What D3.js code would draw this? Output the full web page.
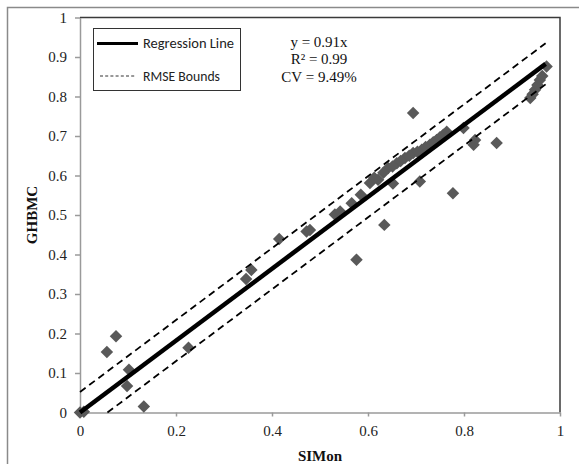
<!DOCTYPE html>
<html lang="en">
<head>
    <style>
        body { margin: 0; background: #fff; }
        svg { display: block; }
        .axis path, .axis line { stroke: #9a9a9a; stroke-width: 1.5; }
        .axis text { font: 15px "Liberation Serif", "Times New Roman", serif; fill: #222; }
    </style>
</head>
<body>
    <svg width="579" height="464"></svg>
    <script src="https://cdn.jsdelivr.net/npm/d3@7"></script>
    <script>
        // Data
        const simon = [0.000, 0.008, 0.056, 0.075, 0.102, 0.098, 0.133, 0.226, 0.346, 0.357,
                       0.415, 0.472, 0.479, 0.531, 0.542, 0.566, 0.576, 0.585, 0.604, 0.621,
                       0.634, 0.652, 0.642, 0.660, 0.677, 0.694, 0.712, 0.729, 0.743, 0.757,
                       0.764, 0.694, 0.708, 0.777, 0.799, 0.823, 0.820, 0.868, 0.938, 0.948,
                       0.958, 0.972, 0.613, 0.632, 0.651, 0.668, 0.686, 0.703, 0.720, 0.736,
                       0.750, 0.943, 0.953, 0.963];
        const ghbmc = [0.000, 0.002, 0.153, 0.193, 0.108, 0.067, 0.015, 0.164, 0.338, 0.361,
                       0.439, 0.458, 0.462, 0.501, 0.509, 0.530, 0.387, 0.551, 0.581, 0.589,
                       0.475, 0.580, 0.619, 0.631, 0.644, 0.657, 0.665, 0.678, 0.690, 0.703,
                       0.711, 0.758, 0.585, 0.555, 0.720, 0.690, 0.678, 0.682, 0.796, 0.817,
                       0.842, 0.876, 0.594, 0.607, 0.623, 0.637, 0.650, 0.660, 0.672, 0.684,
                       0.697, 0.806, 0.829, 0.852];
        const fitSlope = 0.91;
        const rmse = 0.052;
        const fitRange = [0, 0.97];
        const xTicks = [0, 0.2, 0.4, 0.6, 0.8, 1];
        const xTickLabels = ["0", "0.2", "0.4", "0.6", "0.8", "1"];
        const yTicks = [0, 0.1, 0.2, 0.3, 0.4, 0.5, 0.6, 0.7, 0.8, 0.9, 1];
        const yTickLabels = ["0", "0.1", "0.2", "0.3", "0.4", "0.5", "0.6", "0.7", "0.8", "0.9", "1"];
        const statsText = ["y = 0.91x", "R\u00b2 = 0.99", "CV = 9.49%"];
        const legendLabels = ["Regression Line", "RMSE Bounds"];

        const svg = d3.select("svg");
        const plotLeft = 80, plotRight = 560, plotTop = 17.5, plotBottom = 412.5;

        const x = d3.scaleLinear().domain([0, 1]).range([plotLeft, plotRight]);
        const y = d3.scaleLinear().domain([0, 1]).range([plotBottom, plotTop]);

        // outer frame (runs past the picture edge)
        svg.append("rect")
            .attr("x", 7.5).attr("y", 7.5).attr("width", 700).attr("height", 600)
            .attr("fill", "none").attr("stroke", "#8a8a8a").attr("stroke-width", 1.5);

        // top and right border of plot area
        svg.append("path")
            .attr("d", `M${plotLeft},${plotTop}H${plotRight}V${plotBottom}`)
            .attr("fill", "none").attr("stroke", "#3a3a3a").attr("stroke-width", 1.5);

        // axes
        svg.append("g")
            .attr("class", "axis")
            .attr("transform", `translate(${plotLeft},0)`)
            .call(d3.axisLeft(y).tickValues(yTicks).tickSize(5).tickSizeOuter(0).tickPadding(8)
                .tickFormat((d, i) => yTickLabels[i]));

        svg.append("g")
            .attr("class", "axis")
            .attr("transform", `translate(0,${plotBottom})`)
            .call(d3.axisBottom(x).tickValues(xTicks).tickSize(4).tickSizeOuter(0).tickPadding(9)
                .tickFormat((d, i) => xTickLabels[i]));

        // axis titles
        svg.append("text")
            .attr("transform", `translate(36.5,${(plotTop + plotBottom) / 2}) rotate(-90)`)
            .attr("text-anchor", "middle")
            .style("font", "bold 15px 'Liberation Serif', serif")
            .attr("fill", "#111")
            .text("GHBMC");

        svg.append("text")
            .attr("x", (plotLeft + plotRight) / 2).attr("y", 461)
            .attr("text-anchor", "middle")
            .style("font", "bold 15px 'Liberation Serif', serif")
            .attr("fill", "#111")
            .text("SIMon");

        // points
        const points = simon.map((d, i) => ({ sx: d, gy: ghbmc[i] }));
        const diamond = d3.symbol().type(d3.symbolSquare).size(78);
        svg.append("g")
            .selectAll("path")
            .data(points)
            .join("path")
            .attr("d", diamond)
            .attr("transform", d => `translate(${x(d.sx)},${y(d.gy)}) rotate(45)`)
            .attr("fill", "#595959");

        // regression line and RMSE bounds
        const line = d3.line().x(d => x(d[0])).y(d => y(d[1]));
        const fitPts = fitRange.map(v => [v, fitSlope * v]);
        const upperPts = fitRange.map(v => [v, fitSlope * v + rmse]);
        const lowerStart = rmse / fitSlope;
        const lowerPts = [lowerStart, fitRange[1]].map(v => [v, fitSlope * v - rmse]);

        svg.append("path").datum(upperPts).attr("d", line)
            .attr("fill", "none").attr("stroke", "#000").attr("stroke-width", 1.8)
            .attr("stroke-dasharray", "7,4.5");
        svg.append("path").datum(lowerPts).attr("d", line)
            .attr("fill", "none").attr("stroke", "#000").attr("stroke-width", 1.8)
            .attr("stroke-dasharray", "7,4.5");
        svg.append("path").datum(fitPts).attr("d", line)
            .attr("fill", "none").attr("stroke", "#000").attr("stroke-width", 4.5);

        // stats text
        svg.append("g")
            .selectAll("text")
            .data(statsText)
            .join("text")
            .attr("x", 319)
            .attr("y", (d, i) => 46.5 + i * 17.5)
            .attr("text-anchor", "middle")
            .style("font", "15px 'Liberation Serif', serif")
            .attr("fill", "#111")
            .text(d => d);

        // legend
        const legend = svg.append("g");
        legend.append("rect")
            .attr("x", 93.5).attr("y", 28.5).attr("width", 147).attr("height", 62)
            .attr("fill", "#fff").attr("stroke", "#333").attr("stroke-width", 1);
        legend.append("line")
            .attr("x1", 97).attr("x2", 138).attr("y1", 43.5).attr("y2", 43.5)
            .attr("stroke", "#000").attr("stroke-width", 3);
        legend.append("line")
            .attr("x1", 100).attr("x2", 136).attr("y1", 76).attr("y2", 76)
            .attr("stroke", "#333").attr("stroke-width", 1).attr("stroke-dasharray", "3,2.2");
        legend.selectAll("text.lab")
            .data(legendLabels)
            .join("text")
            .attr("class", "lab")
            .attr("x", 143)
            .attr("y", (d, i) => 48 + i * 33)
            .attr("textLength", (d, i) => i === 0 ? 91 : 77)
            .attr("lengthAdjust", "spacingAndGlyphs")
            .style("font", "14.5px Carlito, 'Liberation Sans', sans-serif")
            .attr("fill", "#222")
            .text(d => d);
    </script>
</body>
</html>
